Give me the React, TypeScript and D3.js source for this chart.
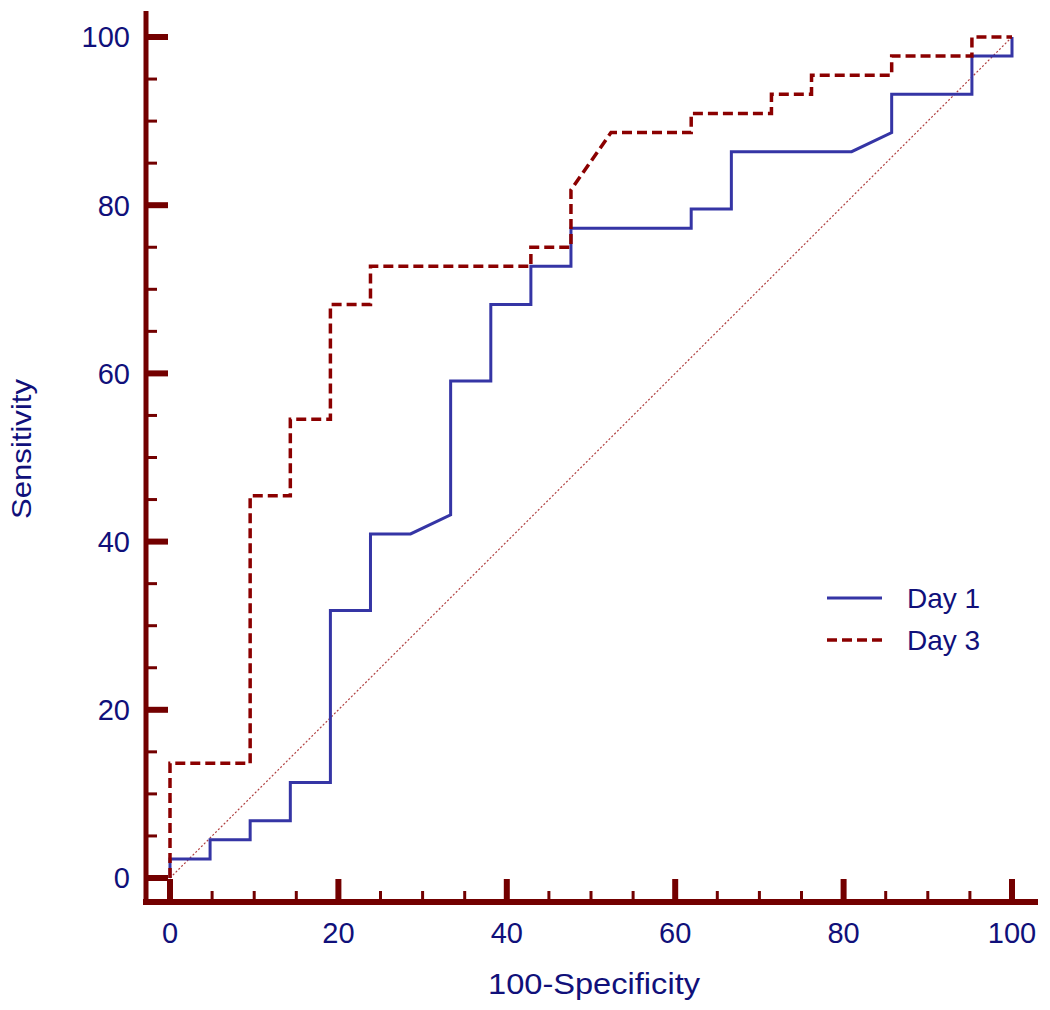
import React from "react";
import * as d3 from "d3";

const day1X = [0, 0, 4.76, 4.76, 9.52, 9.52, 14.29, 14.29, 19.05, 19.05, 23.81, 23.81, 28.57, 33.33, 33.33, 38.1, 38.1, 42.86, 42.86, 47.62, 47.62, 61.9, 61.9, 66.67, 66.67, 80.95, 85.71, 85.71, 95.24, 95.24, 100, 100];
const day1Y = [0, 2.27, 2.27, 4.55, 4.55, 6.82, 6.82, 11.36, 11.36, 31.82, 31.82, 40.91, 40.91, 43.18, 59.09, 59.09, 68.18, 68.18, 72.73, 72.73, 77.27, 77.27, 79.55, 79.55, 86.36, 86.36, 88.64, 93.18, 93.18, 97.73, 97.73, 100];

const day3X = [0, 0, 9.52, 9.52, 14.29, 14.29, 19.05, 19.05, 23.81, 23.81, 42.86, 42.86, 47.62, 47.62, 52.38, 61.9, 61.9, 71.43, 71.43, 76.19, 76.19, 85.71, 85.71, 95.24, 95.24, 100];
const day3Y = [0, 13.64, 13.64, 45.45, 45.45, 54.55, 54.55, 68.18, 68.18, 72.73, 72.73, 75, 75, 81.82, 88.64, 88.64, 90.91, 90.91, 93.18, 93.18, 95.45, 95.45, 97.73, 97.73, 100, 100];

const majorTicks = [0, 20, 40, 60, 80, 100];
const minorTicks = [5, 10, 15, 25, 30, 35, 45, 50, 55, 65, 70, 75, 85, 90, 95];
const seriesNames = ["Day 1", "Day 3"];

const AXIS = "#730000";
const TEXT = "#10107a";
const BLUE = "#3535a5";
const RED = "#8b0000";
const FONT = "'Liberation Sans', Arial, sans-serif";

export default function App() {
  const x = d3.scaleLinear().domain([0, 100]).range([170, 1012]);
  const y = d3.scaleLinear().domain([0, 100]).range([878, 37]);
  const line = d3
    .line<[number, number]>()
    .x((d) => x(d[0]))
    .y((d) => y(d[1]));
  const d1 = line(day1X.map((v, i) => [v, day1Y[i]]) as [number, number][]) || "";
  const d3p = line(day3X.map((v, i) => [v, day3Y[i]]) as [number, number][]) || "";
  const diag = line([[0, 0], [100, 100]]) || "";

  const axisX = 146;
  const axisY = 902;

  return (
    <svg
      width={1050}
      height={1010}
      style={{ position: "absolute", left: 0, top: 0, background: "#fff" }}
      fontFamily={FONT}
    >
      {/* diagonal */}
      <path d={diag} fill="none" stroke="#b04040" strokeWidth={1.2} strokeDasharray="2,2" />
      {/* day 1 */}
      <path d={d1} fill="none" stroke={BLUE} strokeWidth={3} strokeLinejoin="miter" />
      {/* day 3 */}
      <path d={d3p} fill="none" stroke={RED} strokeWidth={3.5} strokeDasharray="10,5" />

      {/* axes */}
      <line x1={axisX} x2={axisX} y1={11} y2={axisY + 3} stroke={AXIS} strokeWidth={5} />
      <line x1={axisX - 3} x2={1038} y1={axisY} y2={axisY} stroke={AXIS} strokeWidth={6} />

      {majorTicks.map((t) => (
        <g key={"ym" + t}>
          <line x1={axisX} x2={168} y1={y(t)} y2={y(t)} stroke={AXIS} strokeWidth={6} />
          <text x={130} y={y(t)} dy="0.36em" textAnchor="end" fontSize={29} fill={TEXT}>
            {t}
          </text>
        </g>
      ))}
      {minorTicks.map((t) => (
        <line key={"yn" + t} x1={axisX} x2={157} y1={y(t)} y2={y(t)} stroke={AXIS} strokeWidth={3} />
      ))}
      {majorTicks.map((t) => (
        <g key={"xm" + t}>
          <line x1={x(t)} x2={x(t)} y1={axisY} y2={879} stroke={AXIS} strokeWidth={6} />
          <text x={x(t)} y={943} textAnchor="middle" fontSize={29} fill={TEXT}>
            {t}
          </text>
        </g>
      ))}
      {minorTicks.map((t) => (
        <line key={"xn" + t} x1={x(t)} x2={x(t)} y1={axisY} y2={891} stroke={AXIS} strokeWidth={3} />
      ))}

      {/* titles */}
      <text x={594} y={994} textAnchor="middle" fontSize={29} fill={TEXT} textLength={212} lengthAdjust="spacingAndGlyphs">
        100-Specificity
      </text>
      <text
        transform="translate(31,449) rotate(-90)"
        textAnchor="middle"
        fontSize={28}
        fill={TEXT}
        textLength={140}
        lengthAdjust="spacingAndGlyphs"
      >
        Sensitivity
      </text>

      {/* legend */}
      <line x1={827} x2={882} y1={598} y2={598} stroke={BLUE} strokeWidth={3} />
      <text x={907} y={598} dy="0.36em" fontSize={28} fill={TEXT}>
        {seriesNames[0]}
      </text>
      <line x1={827} x2={882} y1={640} y2={640} stroke={RED} strokeWidth={3.5} strokeDasharray="10,5" />
      <text x={907} y={640} dy="0.36em" fontSize={28} fill={TEXT}>
        {seriesNames[1]}
      </text>
    </svg>
  );
}
